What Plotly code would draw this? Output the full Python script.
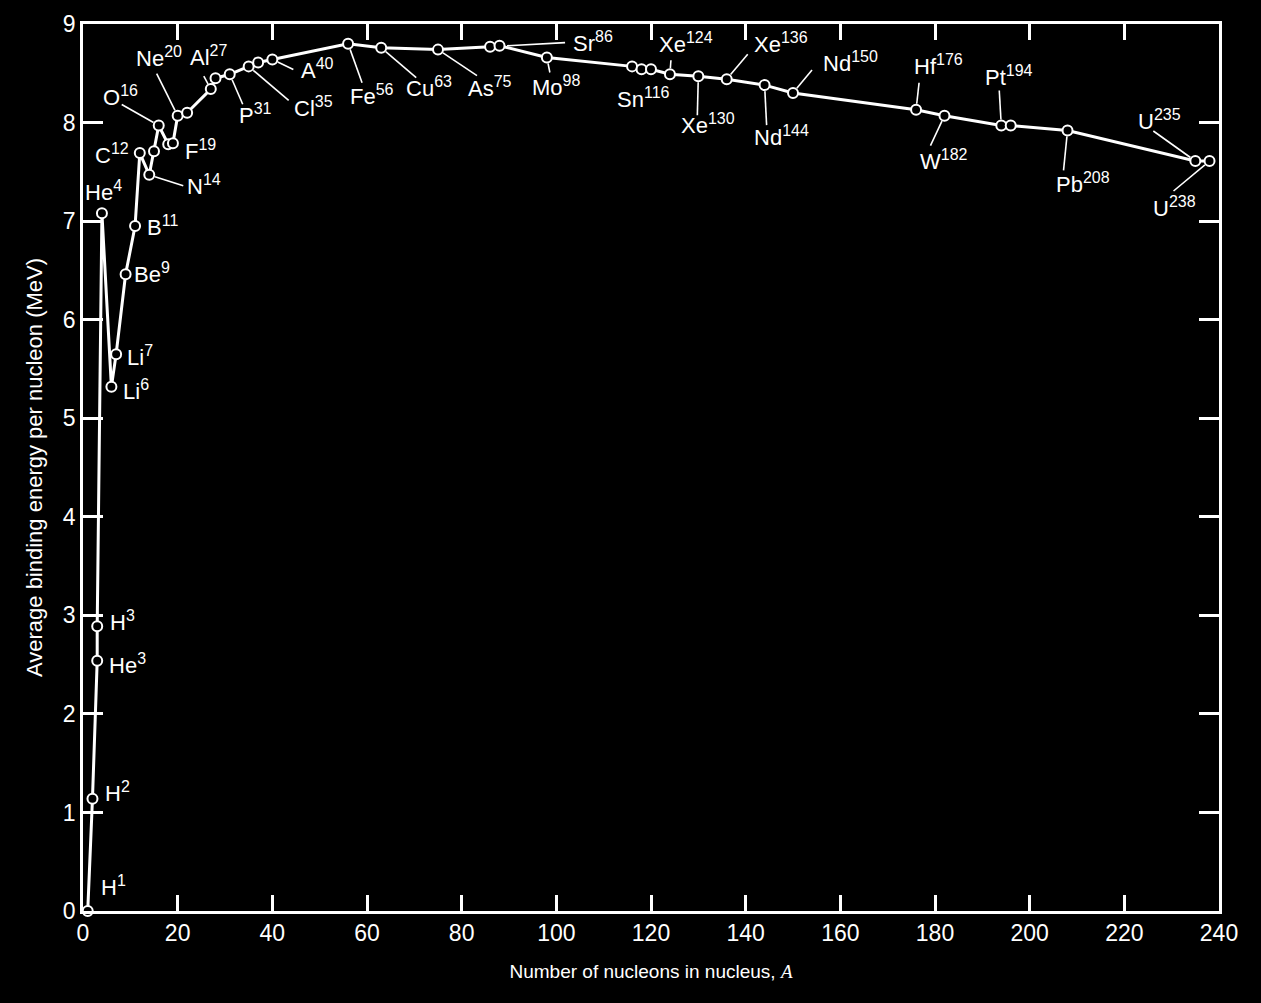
import math
import plotly.graph_objects as go

# ---------------- data ----------------
elements = ["H", "H", "He", "H", "He", "Li", "Li", "Be", "B", "C", "N", "N", "O", "O",
            "F", "Ne", "Ne", "Al", "Si", "P", "Cl", "Cl", "A", "Fe", "Cu", "As", "Sr",
            "Sr", "Mo", "Sn", "Sn", "Sn", "Xe", "Xe", "Xe", "Nd", "Nd", "Hf", "W", "Pt",
            "Pt", "Pb", "U", "U"]
mass_number = [1, 2, 3, 3, 4, 6, 7, 9, 11, 12, 14, 15, 16, 18,
               19, 20, 22, 27, 28, 31, 35, 37, 40, 56, 63, 75, 86,
               88, 98, 116, 118, 120, 124, 130, 136, 144, 150, 176, 182, 194,
               196, 208, 235, 238]
binding_energy = [0.00, 1.14, 2.54, 2.89, 7.08, 5.32, 5.65, 6.46, 6.95, 7.69, 7.47, 7.71, 7.97, 7.78,
                  7.79, 8.07, 8.10, 8.34, 8.45, 8.49, 8.57, 8.61, 8.64, 8.80, 8.76, 8.74, 8.77,
                  8.78, 8.66, 8.57, 8.54, 8.54, 8.49, 8.47, 8.44, 8.38, 8.30, 8.13, 8.07, 7.97,
                  7.97, 7.92, 7.61, 7.61]
show_label = [True, True, True, True, True, True, True, True, True, True, True, False, True, False,
              True, True, False, True, False, True, True, False, True, True, True, True, True,
              False, True, True, False, False, True, True, True, True, True, True, True, True,
              False, True, True, True]
x_ticks = list(range(0, 241, 20))
y_ticks = list(range(0, 10))
x_title = "Number of nucleons in nucleus, <span style=\"font-family:'Liberation Serif'\"><i>A</i></span>"
y_title = "Average binding energy per nucleon (MeV)"

# ---------------- label placement (pixels, +x right, +y down) ----------------
# key: (text centre offset, leader-line tail offset or None, leader standoff)
label_place = {
    "H1": ((26, -25), None, 6), "H2": ((25, -7), None, 6), "H3": ((25, -5), None, 6),
    "He3": ((30, 3), None, 6), "He4": ((2, -22), None, 6), "Li6": ((25, 3), None, 6),
    "Li7": ((24, 2), None, 6), "Be9": ((26, -1), None, 6), "B11": ((27, 0), None, 6),
    "C12": ((-28, 1), None, 6), "N14": ((55, 10), (34, 11), 6), "O16": ((-38, -30), (-37, -21), 6),
    "F19": ((28, 7), None, 6), "Ne20": ((-19, -59), (-21, -42), 6), "Al27": ((-2, -33), (-7, -13), 6),
    "P31": ((26, 40), (13, 30), 6), "Cl35": ((65, 41), (40, 34), 6), "A40": ((45, 10), (21, 10), 6),
    "Fe56": ((24, 51), (14, 39), 6), "Cu63": ((48, 39), (35, 30), 6), "As75": ((52, 37), (39, 26), 6),
    "Sr86": ((103, -5), (75, -4), 17), "Mo98": ((9, 28), (3, 15), 6), "Sn116": ((11, 32), None, 6),
    "Xe124": ((16, -31), (1, -14), 6), "Xe130": ((10, 48), (-1, 39), 6), "Xe136": ((54, -36), (21, -25), 6),
    "Nd144": ((17, 51), (2, 40), 6), "Nd150": ((57, -31), (19, -23), 6), "Hf176": ((22, -45), (3, -27), 6),
    "W182": ((0, 44), (-14, 30), 6), "Pt194": ((8, -50), (-2, -35), 6), "Pb208": ((15, 53), (-4, 40), 6),
    "U235": ((-36, -41), (-42, -30), 6), "U238": ((-35, 46), (-36, 30), 6),
}

FONT = "Liberation Sans, Arial, sans-serif"
WHITE = "#ffffff"

fig = go.Figure()
fig.add_trace(go.Scatter(
    x=mass_number, y=binding_energy, mode="lines+markers",
    line=dict(color=WHITE, width=3),
    marker=dict(symbol="circle", size=10, color="#000000", line=dict(color=WHITE, width=2)),
    cliponaxis=False, hoverinfo="skip", showlegend=False,
))

annotations = []
shapes = []
for el, a, e, show in zip(elements, mass_number, binding_energy, show_label):
    if not show:
        continue
    key = f"{el}{a}"
    (dx, dy), leader, standoff = label_place[key]
    annotations.append(dict(
        x=a, y=e, xref="x", yref="y",
        text=f"{el}<sup><span style=\"font-size:16px\">{a}</span></sup>", showarrow=False,
        xshift=dx, yshift=-dy, xanchor="center", yanchor="middle",
        font=dict(family=FONT, size=22, color=WHITE),
    ))
    if leader is not None:
        lx, ly = leader
        length = math.hypot(lx, ly)
        sx, sy = lx * standoff / length, ly * standoff / length
        # leader line anchored at the data point, with pixel offsets
        shapes.append(dict(
            type="line", xref="x", yref="y",
            xsizemode="pixel", ysizemode="pixel", xanchor=a, yanchor=e,
            x0=sx, x1=lx, y0=-sy, y1=-ly,
            line=dict(color=WHITE, width=1.6), layer="above",
        ))

axis_common = dict(
    showline=True, linecolor=WHITE, linewidth=2.5, mirror="ticks",
    ticks="inside", tickcolor=WHITE, tickwidth=2.5,
    showgrid=False, zeroline=False,
    tickfont=dict(family=FONT, size=23, color=WHITE),
)

fig.update_layout(
    width=1261, height=1003,
    paper_bgcolor="#000000", plot_bgcolor="#000000",
    margin=dict(l=83, r=42, t=24, b=92),
    xaxis=dict(range=[0, 240], tickvals=x_ticks, ticklen=16,
               title=dict(text=x_title, font=dict(family=FONT, size=19, color=WHITE), standoff=20),
               **axis_common),
    yaxis=dict(range=[0, 9], tickvals=y_ticks, ticklen=20,
               title=dict(text=y_title, font=dict(family=FONT, size=22, color=WHITE), standoff=15),
               **axis_common),
    annotations=annotations,
    shapes=shapes,
    font=dict(family=FONT, color=WHITE),
)

fig.write_html("out.html", config={"displayModeBar": False},
               post_script="document.body.style.margin='0px';")
